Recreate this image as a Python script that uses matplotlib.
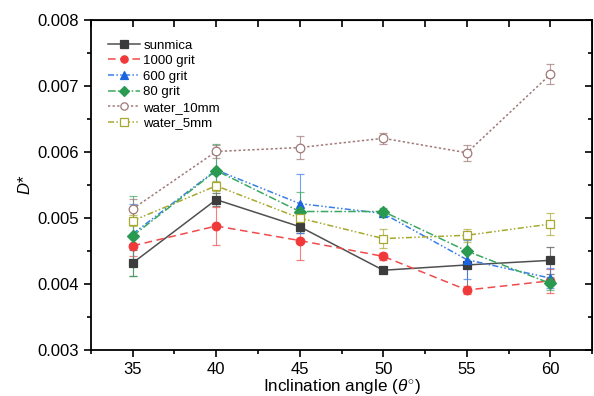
import matplotlib
matplotlib.use("Agg")
import matplotlib.pyplot as plt
from matplotlib.ticker import MultipleLocator

plt.rcParams['font.family'] = ['Liberation Sans', 'DejaVu Sans']
plt.rcParams['mathtext.fontset'] = 'custom'
plt.rcParams['mathtext.it'] = 'Liberation Sans:italic'
plt.rcParams['mathtext.rm'] = 'Liberation Sans'

angle = [35, 40, 45, 50, 55, 60]

sunmica = [0.00432, 0.00528, 0.00487, 0.00421, 0.00429, 0.00436]
sunmica_err = [0.00020, 0.00010, 0.00010, 0.00003, 0.00040, 0.00020]
grit1000 = [0.00458, 0.00488, 0.00466, 0.00442, 0.00391, 0.00405]
grit1000_err = [0.00015, 0.00029, 0.00030, 0.00005, 0.00006, 0.00018]
grit600 = [0.00476, 0.00573, 0.00522, 0.00507, 0.00437, 0.00409]
grit600_err = [0.00045, 0.00030, 0.00045, 0.00005, 0.00030, 0.00015]
grit80 = [0.00473, 0.00572, 0.00510, 0.00510, 0.00450, 0.00401]
grit80_err = [0.00060, 0.00040, 0.00030, 0.00005, 0.00020, 0.00010]
water10 = [0.00514, 0.00601, 0.00607, 0.00621, 0.00599, 0.00718]
water10_err = [0.00015, 0.00010, 0.00018, 0.00008, 0.00012, 0.00015]
water5 = [0.00496, 0.00549, 0.00500, 0.00469, 0.00474, 0.00491]
water5_err = [0.00008, 0.00008, 0.00008, 0.00015, 0.00010, 0.00016]

labels = ['sunmica', '1000 grit', '600 grit', '80 grit', 'water_10mm', 'water_5mm']

fig = plt.figure(figsize=(5.94, 3.96), dpi=100)
ax = fig.add_axes([0.153, 0.116, 0.844, 0.833])

series = [
    (sunmica, sunmica_err, '#505050', '#3c3c3c', 's', '-', True),
    (grit1000, grit1000_err, '#f04a4a', '#f03a3a', 'o', (0, (5, 3)), True),
    (grit600, grit600_err, '#3a7ee8', '#1a64e0', '^', (0, (4, 1.5, 1, 1.5, 1, 1.5)), True),
    (grit80, grit80_err, '#3aa860', '#2a9a50', 'D', (0, (5, 1.5, 1, 1.5)), True),
    (water10, water10_err, '#a07878', '#a07878', 'o', (0, (1.5, 1.5)), False),
    (water5, water5_err, '#a8a830', '#a8a830', 's', (0, (4, 1.5, 1, 1.5, 1, 1.5)), False),
]

handles = []
for (vals, err, lc, mc, mk, ls, filled), lab in zip(series, labels):
    cont = ax.errorbar(angle, vals, yerr=err, color=lc, ls=ls, lw=1.1,
                       marker=mk, ms=6.2 if mk != 'D' else 5.8,
                       mfc=mc if filled else 'white', mec=mc, mew=0.9,
                       ecolor=matplotlib.colors.to_rgba(lc, 0.7),
                       elinewidth=0.8, capsize=3, capthick=0.8, label=lab)
    handles.append(cont[0])

ax.set_xlim(32.5, 62.5)
ax.set_ylim(0.003, 0.008)
ax.xaxis.set_major_locator(MultipleLocator(5))
ax.xaxis.set_minor_locator(MultipleLocator(2.5))
ax.yaxis.set_major_locator(MultipleLocator(0.001))
ax.yaxis.set_minor_locator(MultipleLocator(0.0005))
ax.yaxis.set_major_formatter(matplotlib.ticker.FormatStrFormatter('%.3f'))

ax.tick_params(which='both', direction='out', labelsize=12, width=1.2)
ax.tick_params(which='major', length=5)
ax.tick_params(which='minor', length=3)
for sp in ax.spines.values():
    sp.set_linewidth(1.3)

# top/right ticks point inward
ax2 = ax.secondary_xaxis('top')
ax2.xaxis.set_major_locator(MultipleLocator(5))
ax2.xaxis.set_minor_locator(MultipleLocator(2.5))
ax2.tick_params(which='both', direction='in', labeltop=False, length=5, width=1.2)
ax3 = ax.secondary_yaxis('right')
ax3.yaxis.set_major_locator(MultipleLocator(0.001))
ax3.yaxis.set_minor_locator(MultipleLocator(0.0005))
ax3.tick_params(which='both', direction='in', labelright=False, width=1.2)
ax3.tick_params(which='major', length=5)
ax3.tick_params(which='minor', length=3)

ax.set_xlabel('Inclination angle ($\\theta^{\\circ}$)', fontsize=12.3, labelpad=0)
ax.set_ylabel('$D$*', fontsize=12, labelpad=3)

ax.legend(handles, labels, loc='upper left', frameon=False, fontsize=9.5,
          handlelength=2.4, handletextpad=0.25, labelspacing=0.25,
          borderaxespad=0, bbox_to_anchor=(0.024, 0.958), markerscale=0.85)

fig.savefig('out.png', dpi=100)
